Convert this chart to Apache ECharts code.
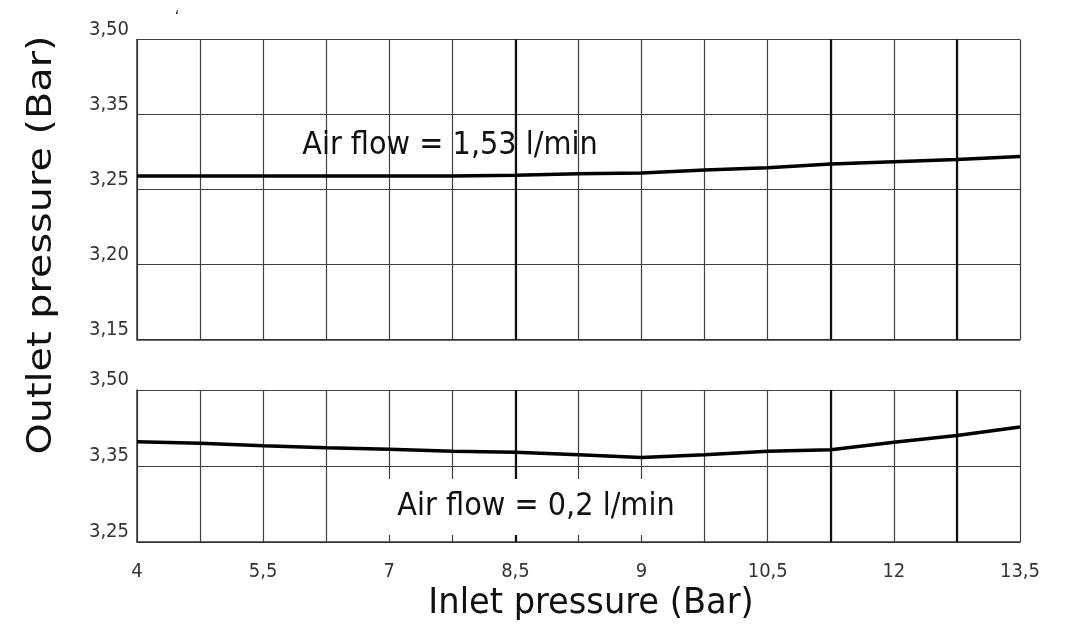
<!DOCTYPE html>
<html>
<head>
<meta charset="utf-8">
<script src="https://cdn.jsdelivr.net/npm/echarts@6/dist/echarts.min.js"></script>
<style>
html,body{margin:0;padding:0;background:#fff;}
#chart{width:1065px;height:629px;}
</style>
</head>
<body>
<div id="chart"></div>
<script>
// ---- data ----
const xIndex = [0,1,2,3,4,5,6,7,8,9,10,11,12,13,14];
const xTickLabels = ['4','5,5','7','8,5','9','10,5','12','13,5'];
const topYTicks = [3.15,3.20,3.25,3.35,3.50];
const topYLabels = ['3,15','3,20','3,25','3,35','3,50'];
const bottomYTicks = [3.25,3.35,3.50];
const bottomYLabels = ['3,25','3,35','3,50'];
const topValues = [3.268,3.268,3.268,3.268,3.268,3.268,3.269,3.271,3.272,3.276,3.279,3.284,3.287,3.290,3.294];
const bottomValues = [3.398,3.395,3.390,3.386,3.383,3.379,3.377,3.372,3.367,3.372,3.379,3.382,3.397,3.410,3.427];
const topLabel = 'Air flow = 1,53 l/min';
const bottomLabel = 'Air flow = 0,2 l/min';
const xTitle = 'Inlet pressure (Bar)';
const yTitle = 'Outlet pressure (Bar)';
const heavyGridX = [6,11,13];

// piecewise mapping from value to position on a non-uniform labelled axis
function toPos(v, ticks){
  for (let i=0;i<ticks.length-1;i++){
    if (v>=ticks[i] && v<=ticks[i+1]) return i + (v-ticks[i])/(ticks[i+1]-ticks[i]);
  }
  return v < ticks[0] ? 0 : ticks.length-1;
}

const FONT = '"DejaVu Sans Condensed", "DejaVu Sans", sans-serif';
const gridLine = {color:'#404040', width:1.2};
const txtColor = '#333';

function xAxisCfg(gridIndex, showLabels){
  return {
    type:'value', gridIndex, min:0, max:14, interval:1,
    axisLine:{show:true, lineStyle:{color:'#333', width:1.5}},
    axisTick:{show:false},
    splitLine:{show:true, lineStyle:gridLine},
    axisLabel:{
      show:showLabels, margin:20, color:txtColor, fontFamily:FONT, fontSize:20,
      formatter:v => (v%2===0 ? (xTickLabels[v/2]||'') : '')
    }
  };
}
function yAxisCfg(gridIndex, labels){
  return {
    type:'value', gridIndex, min:0, max:labels.length-1, interval:1,
    axisLine:{show:true, lineStyle:{color:'#333', width:1.5}},
    axisTick:{show:false},
    splitLine:{show:true, lineStyle:gridLine},
    axisLabel:{
      margin:8, color:txtColor, fontFamily:FONT, fontSize:20, verticalAlign:'bottom',
      formatter:v => labels[v] || ''
    }
  };
}
function heavyMarks(){
  return {
    silent:true, symbol:'none', label:{show:false},
    lineStyle:{color:'#111', width:2.2, type:'solid'},
    data: heavyGridX.map(x => ({xAxis:x}))
  };
}

const chart = echarts.init(document.getElementById('chart'), null, {renderer:'canvas'});
chart.setOption({
  animation:false,
  backgroundColor:'#fff',
  grid:[
    {left:137, right:45, top:39.5, height:300},
    {left:137, right:45, top:390, height:152}
  ],
  xAxis:[xAxisCfg(0,false), xAxisCfg(1,true)],
  yAxis:[yAxisCfg(0,topYLabels), yAxisCfg(1,bottomYLabels)],
  series:[
    {
      type:'line', xAxisIndex:0, yAxisIndex:0, symbol:'none',
      lineStyle:{color:'#000', width:3.5},
      data: xIndex.map((x,i)=>[x, toPos(topValues[i], topYTicks)]),
      markLine: heavyMarks(), z:5
    },
    {
      type:'line', xAxisIndex:1, yAxisIndex:1, symbol:'none',
      lineStyle:{color:'#000', width:3.5},
      data: xIndex.map((x,i)=>[x, toPos(bottomValues[i], bottomYTicks)]),
      markLine: heavyMarks(), z:5
    }
  ],
  graphic:[
    {type:'text', z:100, x:450, y:146, scaleX:1.0,
     style:{text:topLabel, fill:'#111', font:'32px '+FONT, align:'center', verticalAlign:'middle'}},
    {type:'text', z:100, x:536, y:507, scaleX:1.0,
     style:{text:bottomLabel, fill:'#111', font:'32px '+FONT, align:'center', verticalAlign:'middle',
            backgroundColor:'#fff', padding:[12,18,12,18]}},
    {type:'text', z:100, x:591, y:604, scaleX:1.07,
     style:{text:xTitle, fill:'#111', font:'35px '+FONT, align:'center', verticalAlign:'middle'}},
    {type:'text', z:100, x:42, y:245, rotation:Math.PI/2, scaleX:1.3,
     style:{text:yTitle, fill:'#111', font:'34px '+FONT, align:'center', verticalAlign:'middle'}},
    {type:'text', z:100, x:177, y:18,
     style:{text:'ʻ', fill:'#222', font:'16px '+FONT, align:'center', verticalAlign:'middle'}}
  ]
});
</script>
</body>
</html>
